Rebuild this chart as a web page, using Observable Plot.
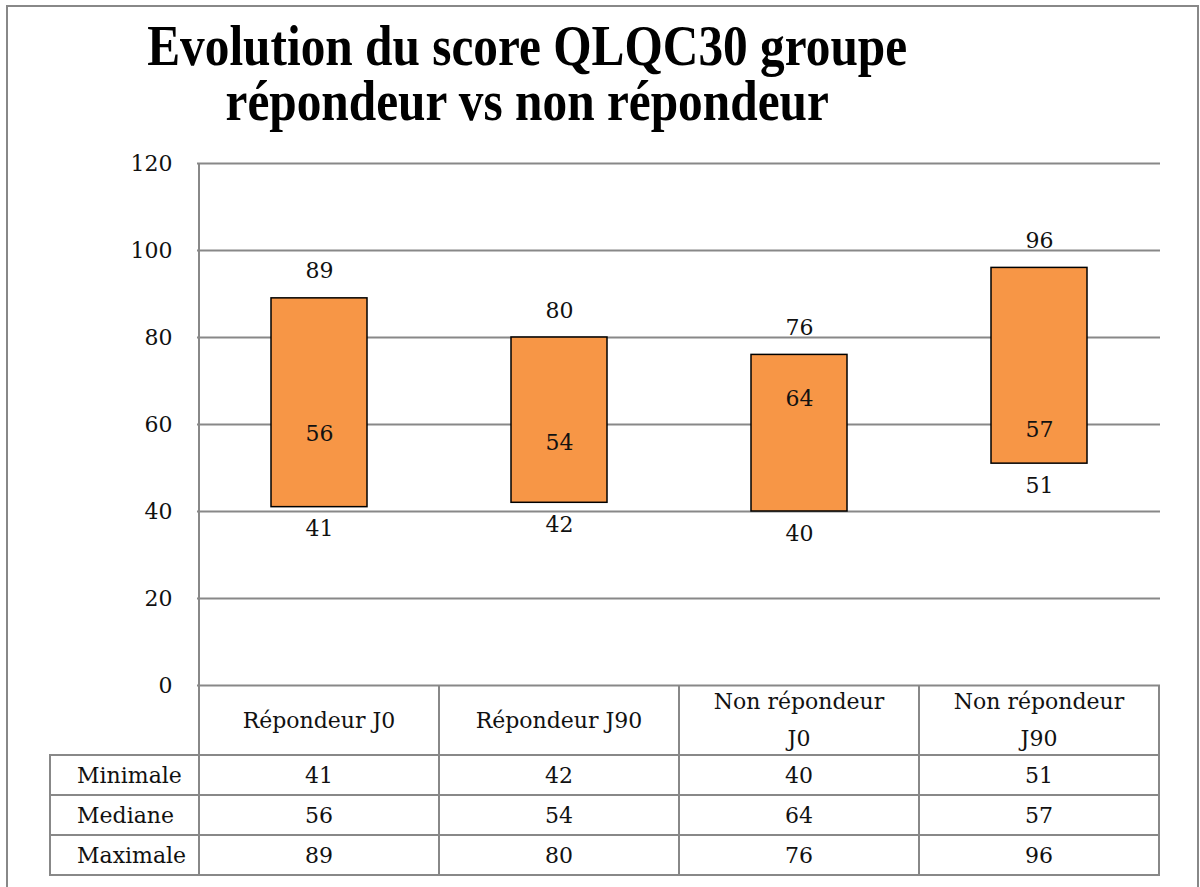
<!DOCTYPE html>
<html><head><meta charset="utf-8">
<script src="https://cdn.jsdelivr.net/npm/d3@7"></script>
<script src="https://cdn.jsdelivr.net/npm/@observablehq/plot@0.6"></script>
<style>
body{margin:0;background:#fff;}
#root{position:relative;width:1200px;height:887px;overflow:hidden;font-family:"DejaVu Serif",serif;color:#111;background:#fff;}
#frame{position:absolute;left:6px;top:5px;width:1193px;height:900px;border:2px solid #888;box-sizing:border-box;}
#title{position:absolute;font-family:"Liberation Serif",serif;font-weight:bold;font-size:57px;line-height:55px;white-space:pre;text-align:center;transform-origin:50% 0;color:#000;}
.ln{position:absolute;background:#888;}
.cell{position:absolute;display:flex;align-items:center;justify-content:center;text-align:center;font-size:22px;line-height:37px;white-space:pre;color:#111;}
#chart{position:absolute;left:0;top:140px;}
</style></head><body><div id="root"><div id="frame"></div><div id="chart"></div></div>
<script>
const categories = ["Répondeur J0", "Répondeur J90", "Non répondeur J0", "Non répondeur J90"];
const headerLabels = ["Répondeur J0", "Répondeur J90", "Non répondeur\nJ0", "Non répondeur\nJ90"];
const minimale = [41, 42, 40, 51];
const mediane = [56, 54, 64, 57];
const maximale = [89, 80, 76, 96];
const rowLabels = ["Minimale", "Mediane", "Maximale"];
const yTicks = [0, 20, 40, 60, 80, 100, 120];
const titleLines = ["Evolution du score QLQC30 groupe", "répondeur vs non répondeur"];

const data = categories.map((c, i) => ({cat: c, min: minimale[i], med: mediane[i], max: maximale[i]}));
const rows = [minimale, mediane, maximale];

const chart = Plot.plot({
  width: 1200, height: 560,
  marginTop: 23, marginBottom: 15, marginLeft: 197, marginRight: 40,
  style: {fontFamily: '"DejaVu Serif", serif', fontSize: "22px", background: "transparent", color: "#111"},
  x: {domain: categories, paddingInner: 0.6, paddingOuter: 0.3, axis: null},
  y: {domain: [0, 120]},
  marks: [
    Plot.ruleY(yTicks, {stroke: "#888", strokeWidth: 2}),
    Plot.axisY(yTicks, {tickSize: 0, tickPadding: 25, fontSize: 22, label: null}),
    Plot.barY(data, {x: "cat", y1: "min", y2: "max", fill: "#F79646", stroke: "#000", strokeWidth: 1.5}),
    Plot.text(data, {x: "cat", y: "max", text: "max", dy: -27, fontSize: 22}),
    Plot.text(data, {x: "cat", y: "min", text: "min", dy: 22, fontSize: 22}),
    Plot.text(data, {x: "cat", y: "med", text: "med", dy: -8, fontSize: 22})
  ]
});
document.getElementById("chart").appendChild(chart);

const root = document.getElementById("root");
const top0 = 140;
const xs = chart.scale("x"), ys = chart.scale("y");
const step = xs.step, bw = xs.bandwidth;
const colLeft = categories.map(c => xs.apply(c) - (step - bw) / 2);
const plotLeft = colLeft[0], plotRight = colLeft[3] + step;
const yTop = top0 + ys.apply(120), yBase = top0 + ys.apply(0);
const headerH = 70, rowH = 40, labelLeft = 50;

function line(x, y, w, h) {
  const d = document.createElement("div");
  d.className = "ln";
  Object.assign(d.style, {left: x + "px", top: y + "px", width: w + "px", height: h + "px"});
  root.appendChild(d);
}
function cell(x, y, w, h, txt, extra) {
  const d = document.createElement("div");
  d.className = "cell";
  Object.assign(d.style, {left: x + "px", top: y + "px", width: w + "px", height: h + "px"}, extra || {});
  d.textContent = txt;
  root.appendChild(d);
}
const tableBottom = yBase + headerH + rowH * 3;
line(plotLeft - 1, yTop, 2, tableBottom - yTop + 1);
colLeft.forEach((x, i) => line(x + step - 1, yBase, 2, tableBottom - yBase + 1));
line(labelLeft - 1, yBase + headerH, 2, rowH * 3 + 1);
for (let r = 0; r <= 3; r++) line(labelLeft - 1, yBase + headerH + r * rowH - 1, plotRight - labelLeft + 2, 2);
headerLabels.forEach((t, i) => cell(colLeft[i], yBase, step, headerH, t));
rowLabels.forEach((t, r) => {
  const y = yBase + headerH + r * rowH;
  cell(labelLeft, y, plotLeft - labelLeft, rowH, t, {justifyContent: "flex-start", paddingLeft: "27px", boxSizing: "border-box"});
  rows[r].forEach((v, i) => cell(colLeft[i], y, step, rowH, String(v)));
});

// title: one block of two lines, compressed horizontally to the reference width
const titleCenter = 527, titleWidth = 760;
const t = document.createElement("div");
t.id = "title";
t.textContent = titleLines.join("\n");
root.appendChild(t);
const w = t.getBoundingClientRect().width;
t.style.left = (titleCenter - w / 2) + "px";
t.style.top = "18px";
t.style.transform = `scaleX(${titleWidth / w})`;
</script></body></html>
